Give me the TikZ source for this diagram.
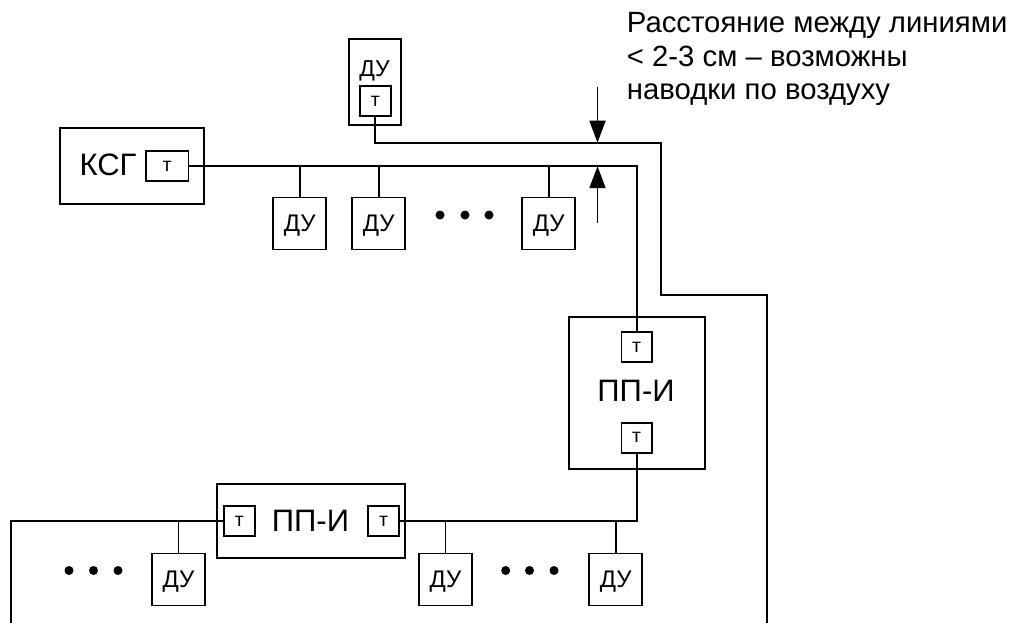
\documentclass[tikz,border=0pt]{standalone}
\usepackage{fontspec}
\setmainfont{Liberation Sans}
\usetikzlibrary{arrows.meta}
\begin{document}
\begin{tikzpicture}[x=1pt,y=-1pt, line width=1.9pt,
 box/.style={draw, rectangle, inner sep=0pt, line width=1.9pt},
 du/.style={box, minimum width=53pt, minimum height=52pt, text depth=0pt, font=\fontsize{24}{28}\selectfont},
 tb/.style={box, minimum width=30.5pt, minimum height=30pt, font=\fontsize{19.5}{22}\selectfont},
 big/.style={font=\fontsize{31}{36}\selectfont, inner sep=0pt, text depth=0pt},
 lbl/.style={font=\fontsize{23}{26}\selectfont, inner sep=0pt, text depth=0pt},
 note/.style={font=\fontsize{29.3}{34}\selectfont, inner sep=0pt, anchor=base west},
 dot/.style={circle, fill, inner sep=0pt, minimum size=9pt},
 arr/.style={-{Triangle[length=22pt,width=16pt]}, line width=1.9pt}]
\useasboundingbox (0,0) rectangle (1017,623);

% top DU with T
\node[box, minimum width=52pt, minimum height=86pt] (du0) at (374.7,81.7) {};
\node[lbl] (du0l) at (374.5,69) {ДУ};
\node[tb] (t0) at (375.3,101.3) {т};

% KSG
\node[box, minimum width=144pt, minimum height=75.5pt] (ksg) at (132,166) {};
\node[big] (ksgl) at (108,164.2) {КСГ};
\node[tb, minimum width=42.5pt] (t1) at (167.2,166.2) {т};

% upper DU row
\node[du] (du1) at (299.7,223.5) {ДУ};
\node[du] (du2) at (378.7,223.5) {ДУ};
\node[du] (du3) at (548.7,223.5) {ДУ};
\node[dot] (d1) at (440,215) {};
\node[dot] (d2) at (465,215) {};
\node[dot] (d3) at (489,215) {};

% upper PP-I
\node[box, minimum width=136pt, minimum height=152pt] (pp1) at (636.7,392.7) {};
\node[big] (pp1l) at (636,390.8) {ПП-И};
\node[tb] (pp1t) at (636.7,347.3) {т};
\node[tb] (pp1b) at (636.7,437.7) {т};

% lower PP-I
\node[box, minimum width=188pt, minimum height=74pt] (pp2) at (310.7,521.3) {};
\node[big] (pp2l) at (310.5,520.8) {ПП-И};
\node[tb] (pp2a) at (239.3,521.3) {т};
\node[tb] (pp2b) at (383.5,521.3) {т};

% lower DU row
\node[du] (du4) at (178.5,579.5) {ДУ};
\node[du] (du5) at (445.5,579.5) {ДУ};
\node[du] (du6) at (615.7,579.5) {ДУ};
\node[dot] (d4) at (69,570.5) {};
\node[dot] (d5) at (93.5,570.5) {};
\node[dot] (d6) at (118,570.5) {};
\node[dot] (d7) at (505.7,570.5) {};
\node[dot] (d8) at (529.5,570.5) {};
\node[dot] (d9) at (554,570.5) {};

% wires
\coordinate (c1) at (661,142.7);
\coordinate (c2) at (766.7,294.7);
\coordinate (e1) at (766.7,623);
\coordinate (e2) at (10.7,623);
\draw (t0.south) |- (c1) |- (c2) -- (e1);
\draw (t1.east) -| (pp1t.north);
\foreach \n in {du1,du2,du3} \draw (\n.north) -- (\n.north |- t1.east);
\draw (pp1b.south) |- (pp2b.east);
\draw (pp2a.west) -| (e2);
\foreach \n in {du4,du5,du6} \draw (\n.north) -- (\n.north |- pp2a.west);

% arrows
\coordinate (a1) at (597.5,87);
\coordinate (a2) at (597.5,223);
\draw[arr] (a1) -- (a1 |- c1);
\draw[arr] (a2) -- (a2 |- t1.east);

% note
\node[note] (n1) at (626,32.5) {Расстояние между линиями};
\node[note] (n2) at (626,66.5) {< 2-3 см – возможны};
\node[note] (n3) at (626,100) {наводки по воздуху};
\end{tikzpicture}
\end{document}
